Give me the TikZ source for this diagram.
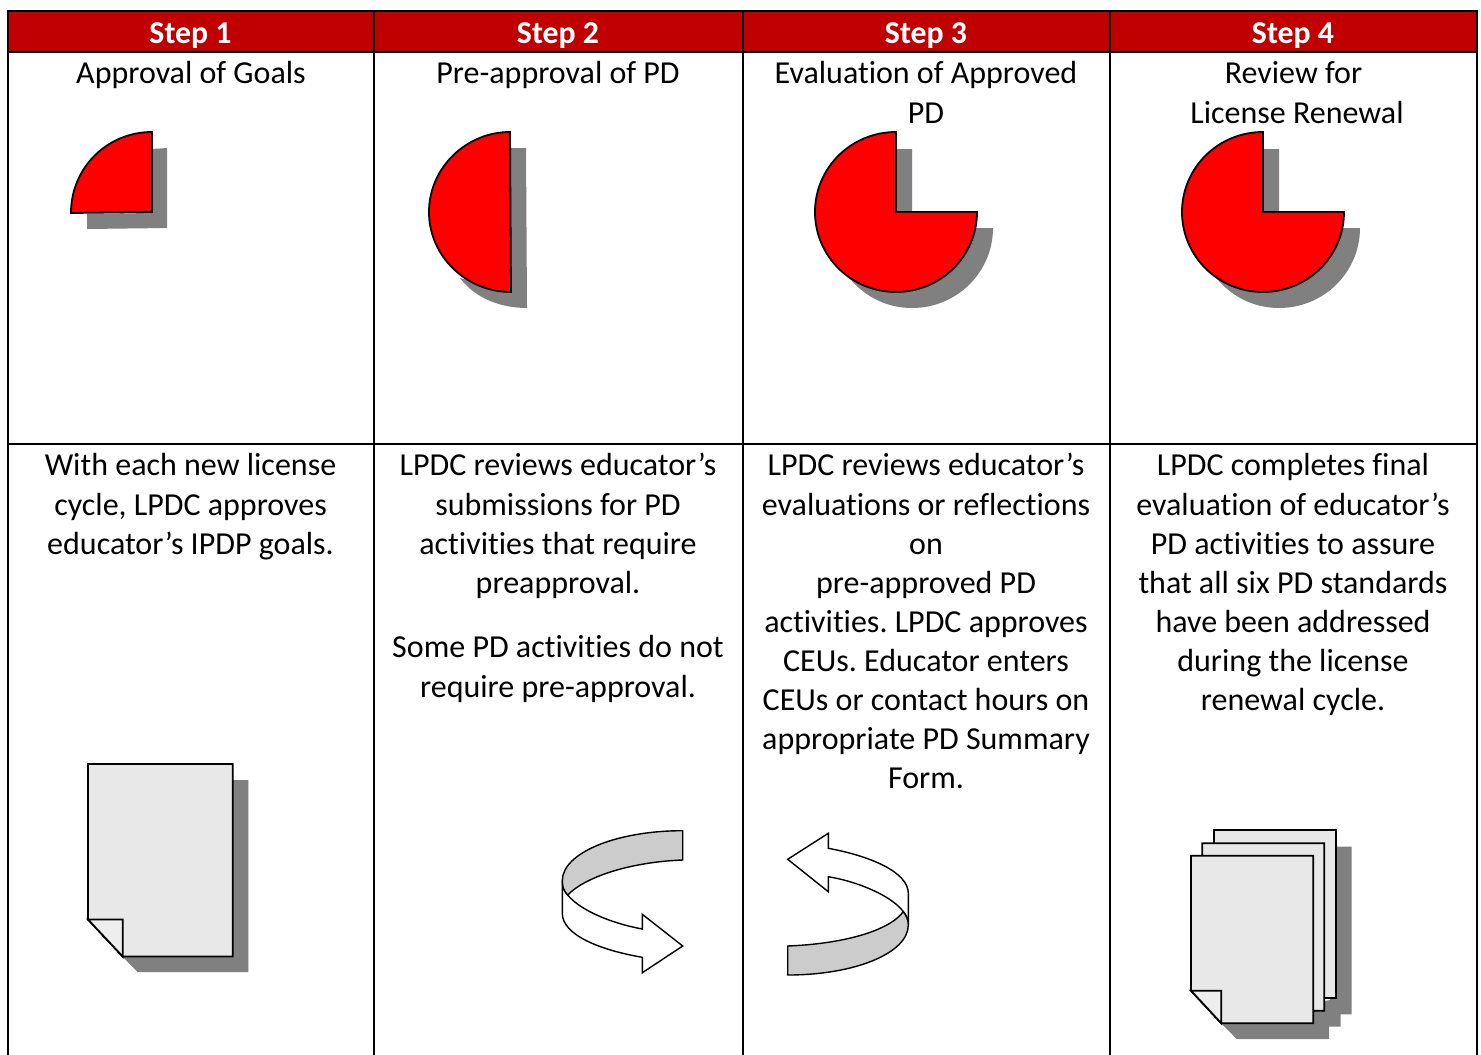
\documentclass[tikz,border=0pt]{standalone}
\usepackage{fontspec}
\setmainfont[Ligatures=NoCommon]{Carlito}
\frenchspacing
\definecolor{hdr}{HTML}{C00000}
\definecolor{shade}{HTML}{808080}
\definecolor{pagefill}{HTML}{E8E8E8}
\definecolor{foldfill}{HTML}{EEEEEE}
\definecolor{bandfill}{HTML}{CCCCCC}
\tikzset{
  x=1pt,y=-1pt,
  grid/.style={draw=black,line width=2pt},
  hdrtext/.style={text=white,font=\fontsize{31.8}{39.1}\selectfont\bfseries,inner sep=0pt,anchor=base},
  cell/.style={text=black,font=\fontsize{32}{39.1}\selectfont,inner sep=0pt,anchor=north,align=center},
  pie/.style={draw=black,line width=1.8pt,fill=red,line join=miter},
  shadow/.style={fill=shade,draw=none},
  sheet/.style={draw=black,line width=1.8pt,fill=pagefill,line join=miter},
  fold/.style={draw=black,line width=1.8pt,fill=foldfill,line join=miter},
  ribbon/.style={draw=black,line width=1.4pt,fill=white,line join=miter},
  band/.style={draw=black,line width=1.4pt,fill=bandfill,line join=miter},
}
\begin{document}
\begin{tikzpicture}
\useasboundingbox (0,0) rectangle (1481,1055);
\fill[white] (0,0) rectangle (1481,1055);
% header
\fill[hdr] (8,11) rectangle (1477,52);
\draw[grid] (8,1055) -- (8,11) -- (1477,11) -- (1477,1055);
\draw[grid] (8,52) -- (1477,52);
\draw[grid] (8,444) -- (1477,444);
\draw[grid] (374,11) -- (374,1055);
\draw[grid] (743,11) -- (743,1055);
\draw[grid] (1110,11) -- (1110,1055);
\node[hdrtext] (h1) at (190.5,43.4) {Step 1};
\node[hdrtext] (h2) at (558,43.4) {Step 2};
\node[hdrtext] (h3) at (926,43.4) {Step 3};
\node[hdrtext] (h4) at (1293,43.4) {Step 4};
% titles
\node[cell] (t1) at (191,56.4) {\strut Approval of Goals};
\node[cell] (t2) at (558,56.4) {\strut Pre-approval of PD};
\node[cell] (t3) at (926,56.4) {\strut Evaluation of Approved\\PD};
\node[cell] (t4) at (1297,56.4) {\strut Review for\hspace*{7pt}\\License Renewal};
% bodies
\node[cell] (b1) at (190.5,448.4) {\strut With each new license\\cycle, LPDC approves\\educator’s IPDP goals.};
\node[cell] (b2) at (558,448.4) {\strut LPDC reviews educator’s\\submissions for PD\\activities that require\\preapproval.};
\node[cell] (b2b) at (558,630.4) {\strut Some PD activities do not\\require pre-approval.};
\node[cell] (b3) at (926,448.4) {\strut LPDC reviews educator’s\\evaluations or reflections\\on\\pre-approved PD\\activities. LPDC approves\\CEUs. Educator enters\\CEUs or contact hours on\\appropriate PD Summary\\Form.};
\node[cell] (b4) at (1293,448.4) {\strut LPDC completes final\\evaluation of educator’s\\PD activities to assure\\that all six PD standards\\have been addressed\\during the license\\renewal cycle.};
% pie 1
\fill[shadow] (87,229) -- (167,228) -- (167,148) -- (152,149) -- (152,213) -- (87,214) -- cycle;
\draw[pie] (152,132) .. controls (107,132) and (71,168) .. (71,213) -- (152,212) -- cycle;
% pie 2
\fill[shadow] (511,148) -- (526,148) -- (527,308) .. controls (500,308) and (475,298) .. (460,278) -- (511,292) -- cycle;
\draw[pie] (510,132) .. controls (466,132) and (429,168) .. (429,212) .. controls (429,256) and (466,292) .. (511,292) -- cycle;
% pie 3
\fill[shadow] (897,149) -- (912,149) -- (912,228) -- (993,228) .. controls (993,272) and (957,308) .. (912,308) .. controls (885,308) and (862,295) .. (847,275) -- cycle;
\draw[pie] (896,132) .. controls (851,132) and (815,168) .. (815,212) .. controls (815,256) and (851,292) .. (896,292) .. controls (941,292) and (977,256) .. (977,212) -- (896,212) -- cycle;
% pie 4
\fill[shadow] (1264,149) -- (1279,149) -- (1279,228) -- (1360,228) .. controls (1360,272) and (1324,308) .. (1279,308) .. controls (1252,308) and (1229,295) .. (1214,275) -- cycle;
\draw[pie] (1263,132) .. controls (1218,132) and (1182,168) .. (1182,212) .. controls (1182,256) and (1218,292) .. (1263,292) .. controls (1308,292) and (1344,256) .. (1344,212) -- (1263,212) -- cycle;
% document
\fill[shadow] (225,780) -- (248.3,780) -- (248.3,972) -- (137.5,972) -- (118,952) -- (225,950) -- cycle;
\draw[sheet] (88,764) -- (232.7,764) -- (232.7,956.5) -- (122.7,956.5) -- (88,919.5) -- cycle;
\draw[fold] (88,919.5) -- (122.7,919.5) -- (122.7,956.5) -- cycle;
% stack of documents
\fill[shadow] (1330,846.7) -- (1351.7,846.7) -- (1351.7,1014.3) -- (1340.7,1014.3) -- (1340.7,1026.7) -- (1329,1026.7) -- (1329,1039) -- (1236.7,1039) -- (1219,1021) -- (1330,1000) -- cycle;
\draw[sheet] (1214,830) -- (1335.7,830) -- (1335.7,998.3) -- (1214,998.3) -- cycle;
\draw[sheet] (1202.3,843.3) -- (1324.3,843.3) -- (1324.3,1010.7) -- (1212,1010.7) -- (1202.3,1000) -- cycle;
\draw[sheet] (1191,855.7) -- (1313.3,855.7) -- (1313.3,1023.3) -- (1221.3,1023.3) -- (1191,990.7) -- cycle;
\draw[fold] (1191,990.7) -- (1221.3,990.7) -- (1221.3,1023.3) -- cycle;
% clockwise ribbon arrow
\draw[ribbon] (562.3,880.7) -- (562.3,913.3) .. controls (562.3,935) and (600,950) .. (642.3,957.3) -- (642.3,972.7) -- (682.7,946) -- (642.3,914.3) -- (642.3,929) .. controls (610,923) and (580,910) .. (567.7,895) .. controls (564,891) and (562.3,887) .. (562.3,880.7) -- cycle;
\draw[band] (682.7,830.7) .. controls (616,830.7) and (562.3,853) .. (562.3,880.7) .. controls (562.3,887) and (564,891) .. (567.7,895) .. controls (585,877) and (630,862) .. (682.7,860) -- cycle;
% counter-clockwise ribbon arrow
\draw[ribbon] (908.3,925) -- (908.3,893.3) .. controls (908.3,872) and (870,856) .. (828.3,848.3) -- (828.3,833.3) -- (787.7,859.3) -- (828.3,891.7) -- (828.3,876.7) .. controls (860,882) and (893,897) .. (903.3,911.7) .. controls (906,915) and (908.3,920) .. (908.3,925) -- cycle;
\draw[band] (787.7,946) .. controls (840,944) and (888,932) .. (903.3,911.7) .. controls (906,915) and (908.3,920) .. (908.3,925) .. controls (908.3,953) and (855,975) .. (787.7,975) -- cycle;
\end{tikzpicture}
\end{document}
